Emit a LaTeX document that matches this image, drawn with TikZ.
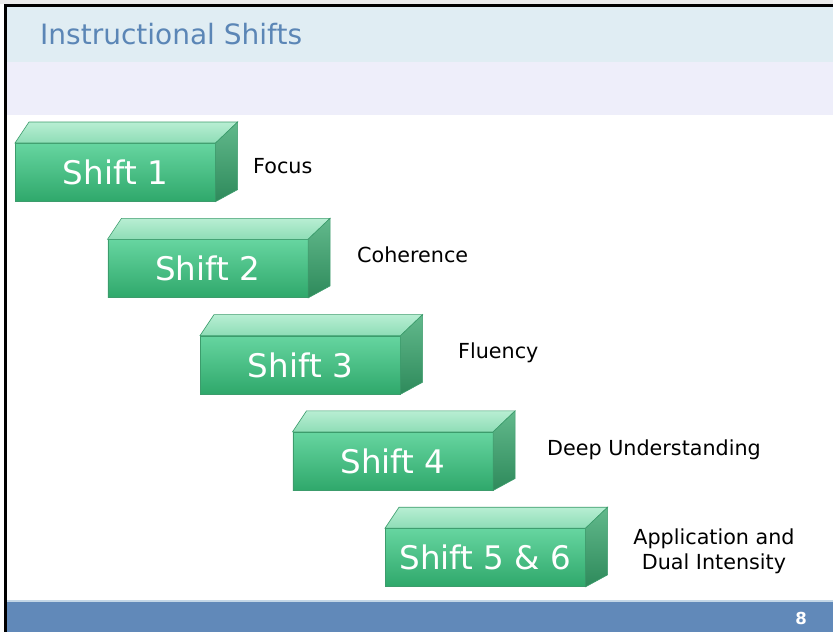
\documentclass[tikz,border=0pt]{standalone}
\usepackage{fontspec}
\setmainfont{DejaVu Sans}
\usepackage{tikz}
\usetikzlibrary{calc,backgrounds}

\definecolor{titleband}{HTML}{E0EDF3}
\definecolor{subband}{HTML}{EEEEFA}
\definecolor{titleblue}{HTML}{5B86B6}
\definecolor{footblue}{HTML}{6189B9}
\definecolor{footline}{HTML}{C3D6E6}
\definecolor{facetop}{HTML}{66D5A0}
\definecolor{facebot}{HTML}{2FA86B}
\definecolor{lidback}{HTML}{B8EED3}
\definecolor{lidfront}{HTML}{8EDDB6}
\definecolor{sidetop}{HTML}{62B98C}
\definecolor{sidebot}{HTML}{2E8A5B}
\definecolor{edgegreen}{HTML}{3C9C6C}

\tikzset{
  frontface/.style={draw=edgegreen, line width=0.6pt, top color=facetop, bottom color=facebot,
    minimum width=200, minimum height=58, anchor=north west, inner sep=0pt,
    text=white, font=\fontsize{32.5}{36}\selectfont},
  lidface/.style={draw=edgegreen, line width=0.6pt, top color=lidback, bottom color=lidfront},
  sideface/.style={draw=edgegreen, line width=0.6pt, top color=sidetop, bottom color=sidebot},
  shiftlabel/.style={anchor=base west, inner sep=0pt, font=\fontsize{20.7}{25}\selectfont}
}

\begin{document}
\begin{tikzpicture}[x=1pt,y=-1pt]
\useasboundingbox (0,0) rectangle (833,632);
\fill[white] (0,0) rectangle (833,632);
\fill[black!8] (0,0) rectangle (833,4);
% header bands
\fill[titleband] (7,7) rectangle (833,62);
\fill[subband] (7,62) rectangle (833,115);
\node[anchor=base west, inner sep=0pt, text=titleblue, font=\fontsize{28}{32}\selectfont] (title) at (40,44) {Instructional Shifts};
% footer
\fill[footblue] (7,600) rectangle (833,632);
\fill[footline] (7,600) rectangle (833,602);
\node[anchor=base, inner sep=0pt, text=white, font=\fontsize{16.5}{18}\bfseries] (page) at (801,624) {8};
% frame lines
\draw[black, line width=3pt] (4,5.5) -- (833,5.5);
\draw[black, line width=3pt] (5.5,4) -- (5.5,632);

% the five steps
\foreach \i/\txt in {1/Shift 1, 2/Shift 2, 3/Shift 3, 4/Shift 4, 5/Shift 5 \& 6} {
  \node[frontface] (shift\i) at ({15+92.5*(\i-1)},{143+96.3*(\i-1)}) {\txt};
  \path[lidface] (shift\i.north west) -- ++(14,-21) -- ($(shift\i.north east)+(22,-21)$)
     -- (shift\i.north east) -- cycle;
  \path[sideface] (shift\i.north east) -- ++(22,-21) -- ($(shift\i.south east)+(22,-12)$)
     -- (shift\i.south east) -- cycle;
}

% labels
\node[shiftlabel] (focus) at (253,173) {Focus};
\node[shiftlabel] (coherence) at (357,262) {Coherence};
\node[shiftlabel] (fluency) at (458,358) {Fluency};
\node[shiftlabel] (deep) at (547,455) {Deep Understanding};
\node[anchor=north, inner sep=0pt, align=center, font=\fontsize{20.7}{25}\selectfont] (application) at (714,529) {Application and\\Dual Intensity};
\end{tikzpicture}
\end{document}
